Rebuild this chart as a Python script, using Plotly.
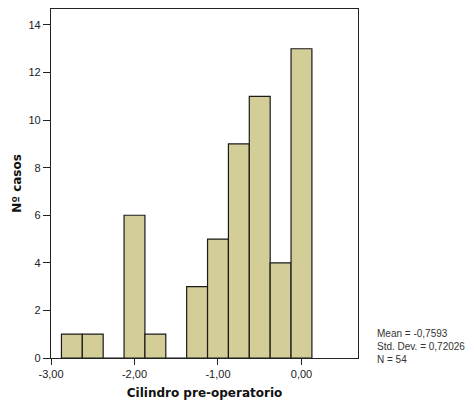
import plotly.graph_objects as go

bin_centers = [-2.75, -2.5, -2.25, -2.0, -1.75, -1.5, -1.25, -1.0, -0.75, -0.5, -0.25, 0.0]
counts = [1, 1, 0, 6, 1, 0, 3, 5, 9, 11, 4, 13]
bin_width = 0.25
x_tickvals = [-3, -2, -1, 0]
x_ticktext = ["-3,00", "-2,00", "-1,00", "0,00"]
y_tickvals = [0, 2, 4, 6, 8, 10, 12, 14]
stats_lines = ["Mean = -0,7593", "Std. Dev. = 0,72026", "N = 54"]

fig = go.Figure()
fig.add_trace(go.Bar(
    x=bin_centers, y=counts, width=bin_width,
    marker=dict(color="#d3ce98", line=dict(color="#1a1a1a", width=1.2)),
    hoverinfo="x+y",
))

# page body has an 8px default margin; figure is sized/offset to compensate
fig.update_layout(
    width=466, height=393,
    margin=dict(l=43, r=116, t=1, b=43),
    paper_bgcolor="white", plot_bgcolor="white",
    font=dict(family="Liberation Sans, Arial, sans-serif", size=11, color="#222"),
    showlegend=False,
    xaxis=dict(
        range=[-3.0, 0.677], tickvals=x_tickvals, ticktext=x_ticktext,
        ticks="outside", ticklen=6, tickcolor="#222", tickwidth=1,
        showgrid=False, zeroline=False,
        showline=True, linecolor="#222", linewidth=1.3, mirror=True,
        title=dict(text="<b>Cilindro pre-operatorio</b>",
                   font=dict(family="DejaVu Sans, Verdana, sans-serif", size=12, color="#111"),
                   standoff=9),
    ),
    yaxis=dict(
        range=[0, 14.67], tickvals=y_tickvals,
        ticks="outside", ticklen=7, tickcolor="#222", tickwidth=1,
        showgrid=False, zeroline=False,
        showline=True, linecolor="#222", linewidth=1.3, mirror=True,
        title=dict(text="<b>Nº casos</b>",
                   font=dict(family="DejaVu Sans, Verdana, sans-serif", size=12, color="#111"),
                   standoff=4),
    ),
)

fig.add_annotation(
    xref="paper", yref="paper", x=1.056, y=-0.026, xanchor="left", yanchor="bottom",
    text="<br>".join(stats_lines), showarrow=False, align="left",
    font=dict(size=10, color="#333"),
)

fig.write_html("out.html")
